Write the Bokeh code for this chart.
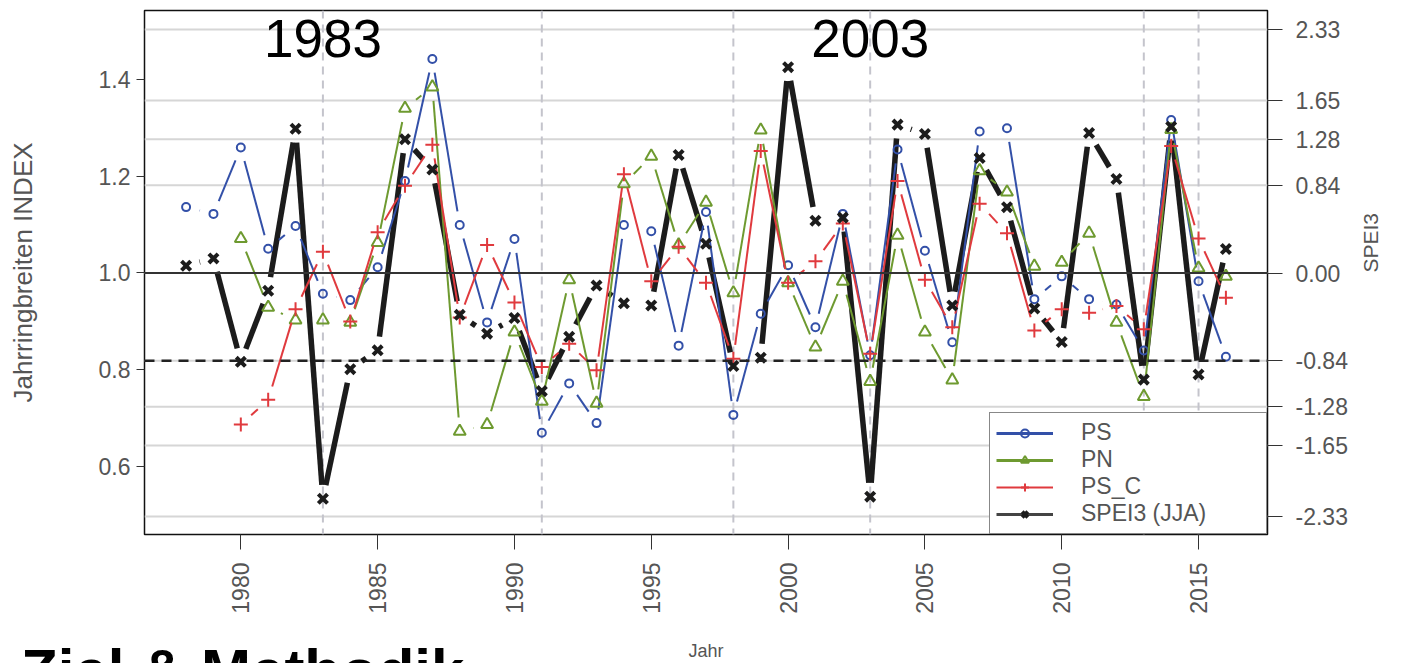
import math
import numpy as np
from bokeh.plotting import figure
from bokeh.layouts import column
from bokeh.models import (Range1d, LinearAxis, FixedTicker, Span, Label, Legend, LegendItem,
                          ColumnDataSource, PrintfTickFormatter, Div)
from bokeh.embed import file_html
from bokeh.resources import INLINE

# ---------------- data ----------------
years = list(range(1978, 2017))
ps = [1.136, 1.122, 1.259, 1.050, 1.097, 0.957, 0.944, 1.012, 1.19, 1.442,
      1.099, 0.898, 1.070, 0.670, 0.772, 0.690, 1.099, 1.086, 0.850, 1.126,
      0.707, 0.916, 1.016, 0.888, 1.122, 0.830, 1.255, 1.046, 0.857, 1.292,
      1.299, 0.946, 0.993, 0.946, 0.935, 0.840, 1.316, 0.983, 0.827]
pn = [None, None, 1.071, 0.929, 0.903, 0.903, 0.898, 1.063, 1.340, 1.384,
      0.673, 0.687, 0.878, 0.735, 0.986, 0.731, 1.184, 1.241, 1.058, 1.146,
      0.959, 1.295, 0.980, 0.847, 0.983, 0.776, 1.078, 0.878, 0.779, 1.211,
      1.167, 1.014, 1.022, 1.082, 0.898, 0.745, 1.296, 1.010, 0.993]
ps_c = [None, None, 0.687, 0.738, 0.925, 1.044, 0.900, 1.084, 1.18, 1.265,
        0.908, 1.058, 0.939, 0.806, 0.854, 0.799, 1.204, 0.983, 1.054, 0.980,
        0.823, 1.252, 0.980, 1.024, 1.102, 0.833, 1.190, 0.986, 0.888, 1.143,
        1.082, 0.881, 0.925, 0.918, 0.932, 0.884, 1.262, 1.071, 0.949]
spei = [0.07, 0.14, -0.85, -0.17, 1.38, -2.16, -0.92, -0.74, 1.28, 0.99,
        -0.40, -0.58, -0.43, -1.13, -0.61, -0.12, -0.29, -0.31, 1.13, 0.28,
        -0.89, -0.81, 1.97, 0.50, 0.53, -2.14, 1.42, 1.33, -0.31, 1.10,
        0.63, -0.34, -0.66, 1.34, 0.90, -1.02, 1.40, -0.97, 0.23]

x_ticks = [1980, 1985, 1990, 1995, 2000, 2005, 2010, 2015]
left_ticks = [0.6, 0.8, 1.0, 1.2, 1.4]
spei_ticks = [-2.33, -1.65, -1.28, -0.84, 0.0, 0.84, 1.28, 1.65, 2.33]
spei_threshold = -0.84
drought_years = [1983, 1991, 1998, 2003, 2013, 2015]
annot_years = [1983, 2003]
series_names = ["PS", "PN", "PS_C", "SPEI3 (JJA)"]
footer_text = "Ziel & Methodik"

# ---------------- layout ----------------
W, H = 1396, 663
ML, MR, MT, MB = 144, 124, 10, 125
FW, FH = W - ML - MR, H - MT - MB
X0, X1 = 1976.48, 2017.52
Y0, Y1 = 0.46, 1.542
S0, S1 = -2.502, 2.512

BLUE = "#3350a8"
GREEN = "#6e9a30"
RED = "#e03a3e"
BLACK = "#1c1c1c"
TXT = "#555555"
FONT = "Liberation Sans"

p = figure(width=W, height=H, x_range=Range1d(X0, X1), y_range=Range1d(Y0, Y1),
           output_backend="svg", toolbar_location=None,
           min_border_left=ML, min_border_right=MR, min_border_top=MT, min_border_bottom=MB)
p.extra_y_ranges = {"spei": Range1d(S0, S1)}
p.xgrid.visible = False
p.ygrid.visible = False
p.outline_line_color = "#111111"
p.outline_line_width = 1.5
p.background_fill_color = "white"
p.border_fill_color = "white"

# bottom axis
xa = p.xaxis[0]
xa.ticker = FixedTicker(ticks=x_ticks)
xa.major_label_orientation = math.pi / 2
xa.axis_line_color = None
xa.major_tick_line_color = "#333333"
xa.major_tick_out = 15
xa.major_tick_in = 0
xa.minor_tick_line_color = None
xa.major_label_standoff = 13
xa.major_label_text_font = FONT
xa.major_label_text_font_size = "23px"
xa.major_label_text_color = TXT
xa.axis_label = "Jahr"
xa.axis_label_text_font = FONT
xa.axis_label_text_font_size = "18px"
xa.axis_label_text_font_style = "normal"
xa.axis_label_text_color = TXT
xa.axis_label_standoff = 24

# left axis
ya = p.yaxis[0]
ya.ticker = FixedTicker(ticks=left_ticks)
ya.formatter = PrintfTickFormatter(format="%.1f")
ya.axis_line_color = None
ya.major_tick_line_color = "#333333"
ya.major_tick_out = 8
ya.major_tick_in = 0
ya.minor_tick_line_color = None
ya.major_label_standoff = 6
ya.major_label_text_font = FONT
ya.major_label_text_font_size = "23px"
ya.major_label_text_color = TXT
ya.axis_label = "Jahrringbreiten INDEX"
ya.axis_label_text_font = FONT
ya.axis_label_text_font_size = "26px"
ya.axis_label_text_font_style = "normal"
ya.axis_label_text_color = TXT
ya.axis_label_standoff = 58

# right axis
ra = LinearAxis(y_range_name="spei", ticker=FixedTicker(ticks=spei_ticks),
                formatter=PrintfTickFormatter(format="%.2f"))
ra.axis_line_color = None
ra.major_tick_line_color = "#333333"
ra.major_tick_out = 15
ra.major_tick_in = 0
ra.minor_tick_line_color = None
ra.major_label_standoff = 13
ra.major_label_text_font = FONT
ra.major_label_text_font_size = "23px"
ra.major_label_text_color = TXT
ra.axis_label = "SPEI3"
ra.axis_label_text_font = FONT
ra.axis_label_text_font_size = "21px"
ra.axis_label_text_font_style = "normal"
ra.axis_label_text_color = TXT
ra.axis_label_standoff = 20
if "axis_label_orientation" in ra.properties():
    ra.axis_label_orientation = math.pi / 2
p.add_layout(ra, "right")

# grid lines at SPEI ticks
for t in spei_ticks:
    p.add_layout(Span(location=t, dimension="width", y_range_name="spei",
                      line_color="#d6d6d6", line_width=2, level="underlay"))
for yr in drought_years:
    p.add_layout(Span(location=yr, dimension="height", line_color="#c4c4cc",
                      line_width=2, line_dash="8 6", level="underlay"))
p.add_layout(Span(location=0.0, dimension="width", y_range_name="spei",
                  line_color="#333333", line_width=2))
p.add_layout(Span(location=spei_threshold, dimension="width", y_range_name="spei",
                  line_color="#222222", line_width=2.5, line_dash="10 7"))

# gapped segments (R type="b")
SX = FW / (X1 - X0)
SY = FH / (Y1 - Y0)
SS = FH / (S1 - S0)
GAP = 14.0


def gapped(xs, ys, sy):
    out = dict(x0=[], y0=[], x1=[], y1=[])
    for i in range(len(xs) - 1):
        a, b = ys[i], ys[i + 1]
        if a is None or b is None:
            continue
        dx = (xs[i + 1] - xs[i]) * SX
        dy = (b - a) * sy
        L = math.hypot(dx, dy)
        if L <= 2 * GAP:
            continue
        t = GAP / L
        out["x0"].append(xs[i] + t * (xs[i + 1] - xs[i]))
        out["y0"].append(a + t * (b - a))
        out["x1"].append(xs[i + 1] - t * (xs[i + 1] - xs[i]))
        out["y1"].append(b - t * (b - a))
    return ColumnDataSource(out)


def arr(v):
    return np.array([np.nan if x is None else x for x in v], dtype=float)


seg_spei = p.segment("x0", "y0", "x1", "y1", source=gapped(years, spei, SS),
                     y_range_name="spei", line_color=BLACK, line_width=5.5)

seg_ps = p.segment("x0", "y0", "x1", "y1", source=gapped(years, ps, SY),
                   line_color=BLUE, line_width=2)
sc_ps = p.scatter(years, arr(ps), marker="circle", size=8, fill_color=None,
                  line_color=BLUE, line_width=2)

seg_pn = p.segment("x0", "y0", "x1", "y1", source=gapped(years, pn, SY),
                   line_color=GREEN, line_width=2)
sc_pn = p.scatter(years, arr(pn), marker="triangle", size=12, fill_color=None,
                  line_color=GREEN, line_width=2)

seg_psc = p.segment("x0", "y0", "x1", "y1", source=gapped(years, ps_c, SY),
                    line_color=RED, line_width=2)
sc_psc = p.scatter(years, arr(ps_c), marker="cross", size=14,
                   line_color=RED, line_width=2)

sc_spei = p.scatter(years, spei, marker="x", size=13, y_range_name="spei",
                    line_color=BLACK, line_width=4)


# legend-only proxy lines: a single NaN row, so nothing is drawn in the plot
def proxy(color, width):
    src = ColumnDataSource(dict(x0=[np.nan], y0=[np.nan], x1=[np.nan], y1=[np.nan]))
    return p.segment("x0", "y0", "x1", "y1", source=src, line_color=color, line_width=width)


lg_ps = proxy(BLUE, 3)
lg_pn = proxy(GREEN, 3)
lg_psc = proxy(RED, 2)
lg_spei = proxy("#444444", 3)

legend = Legend(items=[
    LegendItem(label=series_names[0], renderers=[lg_ps, sc_ps]),
    LegendItem(label=series_names[1], renderers=[lg_pn, sc_pn]),
    LegendItem(label=series_names[2], renderers=[lg_psc, sc_psc]),
    LegendItem(label=series_names[3], renderers=[lg_spei, sc_spei]),
], location="bottom_right", margin=0, padding=6, spacing=0,
    glyph_width=57, glyph_height=20, label_standoff=28, label_width=179,
    label_text_font=FONT, label_text_font_size="23px", label_text_color=TXT,
    border_line_color="#111111", border_line_width=1.5,
    background_fill_color="white", background_fill_alpha=1.0)
p.add_layout(legend)

for yr in annot_years:
    p.add_layout(Label(x=yr, y=FH - 32, y_units="screen", text=str(yr),
                       text_align="center", text_baseline="alphabetic",
                       text_font=FONT, text_font_size="53px", text_color="black"))

# footer heading, partly cut off at the bottom edge (as in the reference)
footer = Div(text=footer_text, width=540, height=22, margin=(-22, 0, 0, 21),
             styles={"overflow": "hidden", "font-family": FONT, "font-size": "60px",
                     "font-weight": "bold", "line-height": "60px", "color": "black",
                     "white-space": "nowrap"})

layout = column(p, footer, spacing=0)
open("out.html", "w").write(file_html(layout, INLINE))
